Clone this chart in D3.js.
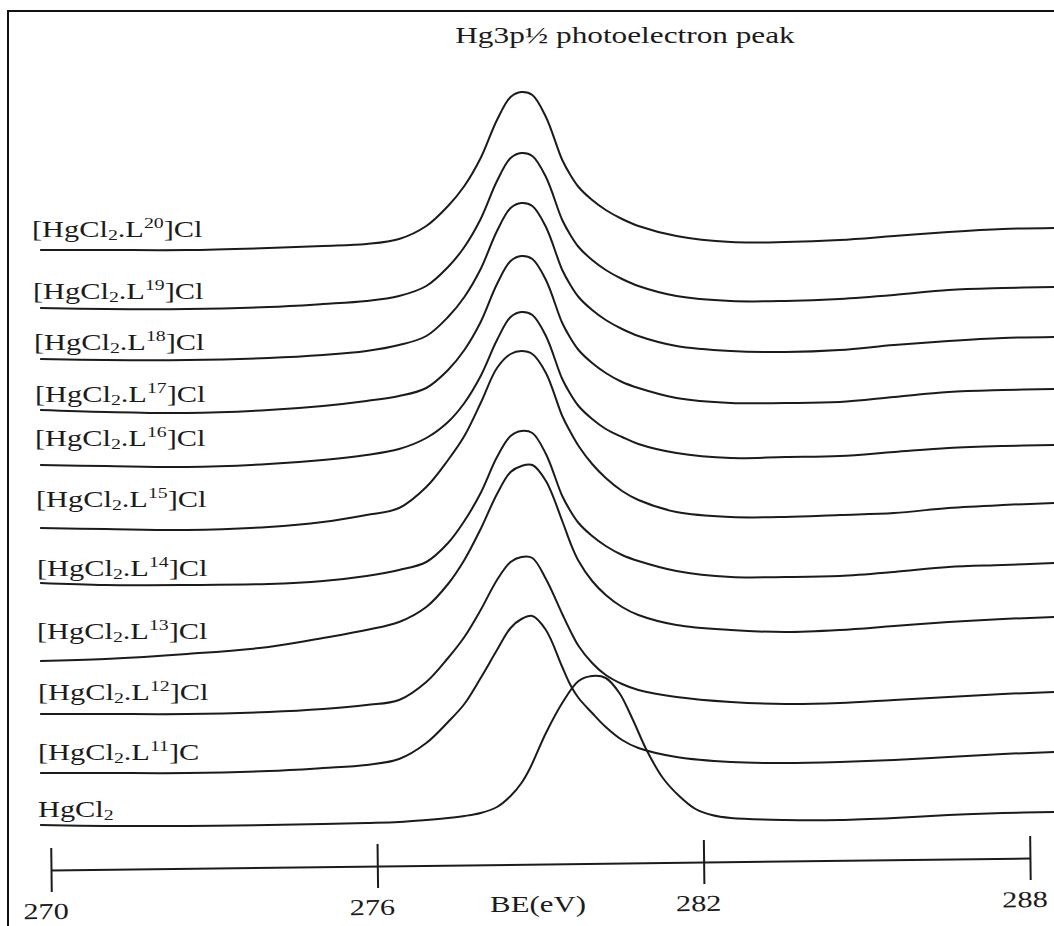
<!DOCTYPE html>
<html lang="en">
<head>
<meta charset="UTF-8">
<title>Hg3p½ photoelectron peak</title>
<script src="https://d3js.org/d3.v7.min.js"></script>
<style>
  body { margin: 0; background: #fff; }
  svg { display: block; }
  text { font-family: "Liberation Serif", "DejaVu Serif", serif; fill: #1b1b1b; }
  .spectrum { fill: none; stroke: #1b1b1b; stroke-width: 2; }
  .frame { fill: none; stroke: #111; stroke-width: 2; }
</style>
</head>
<body>
<svg id="chart" width="1054" height="926"></svg>
<script>
// samples, top to bottom
const seriesNames = [
  "[HgCl2.L20]Cl", "[HgCl2.L19]Cl", "[HgCl2.L18]Cl", "[HgCl2.L17]Cl",
  "[HgCl2.L16]Cl", "[HgCl2.L15]Cl", "[HgCl2.L14]Cl", "[HgCl2.L13]Cl",
  "[HgCl2.L12]Cl", "[HgCl2.L11]C", "HgCl2"
];
// vertical stacking offset of each spectrum (a.u.)
const offsets = [650, 592, 541, 490, 435, 372, 317, 239, 186, 127, 75];

// binding energy grid (eV) of the complexes
const bindingEnergy = [269.8, 271, 272.5, 274, 275, 275.8, 276.4, 276.9, 277.3, 277.6,
  277.9, 278.2, 278.45, 278.65, 278.85, 279.1, 279.4, 279.55, 279.7, 279.95,
  280.2, 280.5, 280.8, 281.5, 282.5, 283.5, 284.5, 285.5, 286.5, 287.5, 288.45];

// intensity above the stacking offset (a.u.), one row per complex
const intensities = [
  [0, 0, 0, 2, 4, 6, 11, 24, 44, 64, 92, 130, 153, 158, 155, 133, 90, 75, 63, 50, 40, 31, 24, 14, 8, 8, 10, 14, 18, 21, 22],
  [0, -1, -1, 1, 4, 7, 12, 22, 41, 61, 89, 127, 150, 155, 152, 131, 88, 73, 61, 48, 38, 29, 22, 12, 7, 7, 9, 13, 18, 20, 21],
  [0, -1, -1, 1, 4, 8, 14, 23, 42, 62, 90, 128, 151, 156, 153, 132, 89, 74, 62, 49, 39, 30, 23, 13, 8, 7, 9, 14, 18, 21, 22],
  [0, -2, -3, 0, 4, 9, 14, 22, 40, 60, 88, 126, 149, 154, 151, 130, 87, 72, 60, 47, 37, 28, 22, 12, 7, 7, 8, 13, 18, 20, 21],
  [0, -1, -2, 1, 5, 10, 16, 27, 43, 62, 89, 125, 148, 153, 150, 129, 86, 71, 59, 46, 36, 28, 21, 12, 7, 8, 9, 13, 17, 19, 20],
  [0, -1, -2, 1, 6, 13, 20, 41, 68, 92, 125, 160, 174, 177, 174, 155, 112, 96, 82, 64, 50, 37, 28, 16, 11, 11, 13, 15, 20, 23, 25],
  [0, -2, -2, -1, 2, 7, 13, 21, 40, 62, 90, 126, 147, 152, 150, 129, 87, 72, 60, 47, 37, 28, 22, 12, 6, 6, 7, 11, 16, 18, 20],
  [0, 2, 7, 14, 23, 31, 39, 54, 77, 101, 132, 167, 189, 195, 196, 180, 140, 118, 100, 80, 66, 54, 46, 36, 31, 29, 31, 35, 39, 42, 44],
  [0, 0, 0, 2, 5, 9, 14, 32, 56, 77, 104, 134, 152, 157, 156, 135, 100, 83, 68, 51, 39, 30, 24, 17, 12, 10, 11, 14, 17, 20, 22],
  [0, 0, 0, 2, 5, 8, 14, 30, 51, 69, 95, 123, 145, 154, 157, 143, 106, 88, 75, 60, 46, 33, 25, 16, 11, 10, 11, 13, 16, 19, 21]
];

// free HgCl2 has its own grid (peak shifted to ~280 eV)
const hgcl2Energy = [269.8, 271, 272.5, 274, 275, 275.8, 276.4, 276.9, 277.3, 277.6,
  277.9, 278.2, 278.45, 278.65, 278.8, 279.1, 279.4, 279.7, 279.95, 280.2,
  280.45, 280.7, 280.95, 281.25, 281.55, 281.85, 282.15, 282.5, 283.5, 284.5,
  285.5, 286.5, 287.5, 288.45];
const hgcl2Intensity = [0, -1, -1, 0, 1, 2, 3, 5, 7, 9, 12, 18, 29, 42, 56, 92, 122, 144, 149, 147,
  132, 105, 75, 47, 29, 16, 10, 7, 5, 5, 7, 10, 12, 13];

const tickValues = [270, 276, 282, 288];

// layout
const W = 1054, H = 926;
const labelLift = [13, 9, 9, 8, 19, 21, 7, 22, 14, 13, 8];
const labelX = [32, 33, 34, 35, 35, 36, 37, 37, 38, 38, 38];
const stretch = 1.32; // the scanned lettering is wide

const svg = d3.select("#chart");
svg.append("rect").attr("width", W).attr("height", H).attr("fill", "#fff");
svg.append("path").attr("class", "frame").attr("d", `M8,${H} V11 H${W}`);

const x = d3.scaleLinear().domain([270, 288]).range([51, 1030]);
const y = d3.scaleLinear().domain([0, 900]).range([900, 0]);

const line = d3.line()
  .x(d => x(d[0]))
  .y(d => y(d[1]))
  .curve(d3.curveCatmullRom.alpha(0.5));

const spectra = seriesNames.map((name, i) => {
  const energy = i < intensities.length ? bindingEnergy : hgcl2Energy;
  const vals = i < intensities.length ? intensities[i] : hgcl2Intensity;
  return { name, offset: offsets[i], points: energy.map((e, j) => [e, offsets[i] + vals[j]]) };
});

svg.append("g").selectAll("path")
  .data(spectra)
  .join("path")
  .attr("class", "spectrum")
  .attr("d", d => line(d.points));

// labels with sub/superscripts
const labels = svg.append("g").selectAll("text")
  .data(spectra)
  .join("text")
  .attr("font-size", 23)
  .attr("transform", (d, i) => `translate(${labelX[i]},${y(d.offset) - labelLift[i]}) scale(${stretch},1)`);

labels.each(function (d) {
  const m = d.name.match(/^(\[?HgCl)2(\.L)?(\d+)?(.*)$/);
  const t = d3.select(this);
  t.append("tspan").text(m[1]);
  t.append("tspan").attr("font-size", 15).attr("dy", 3).text("2");
  if (m[2]) {
    t.append("tspan").attr("dy", -3).text(m[2]);
    t.append("tspan").attr("font-size", 15).attr("dy", -9).text(m[3]);
    t.append("tspan").attr("dy", 9).text(m[4]);
  }
});

// title
svg.append("text")
  .attr("transform", `translate(625,43) scale(1.36,1)`)
  .attr("text-anchor", "middle")
  .attr("font-size", 23)
  .text("Hg3p½ photoelectron peak");

// binding energy axis (slightly tilted like the scan)
const axisG = svg.append("g")
  .attr("transform", "translate(0,870) rotate(-0.7,51,0)")
  .call(d3.axisBottom(x).tickValues(tickValues).tickSizeInner(22).tickSizeOuter(0).tickFormat(d3.format("d")));

axisG.attr("font-family", null).attr("font-size", null);
axisG.select(".domain").attr("stroke", "#1b1b1b").attr("stroke-width", 2);
axisG.selectAll(".tick line").attr("stroke", "#1b1b1b").attr("stroke-width", 2).attr("y1", -22);
axisG.selectAll(".tick text")
  .attr("font-size", 23)
  .attr("fill", "#1b1b1b")
  .attr("y", 49)
  .attr("dy", 0)
  .attr("dx", -4.5)
  .attr("transform", "scale(1.32,1)");

svg.append("text")
  .attr("transform", `translate(538,912) scale(1.34,1)`)
  .attr("text-anchor", "middle")
  .attr("font-size", 23)
  .text("BE(eV)");
</script>
</body>
</html>
